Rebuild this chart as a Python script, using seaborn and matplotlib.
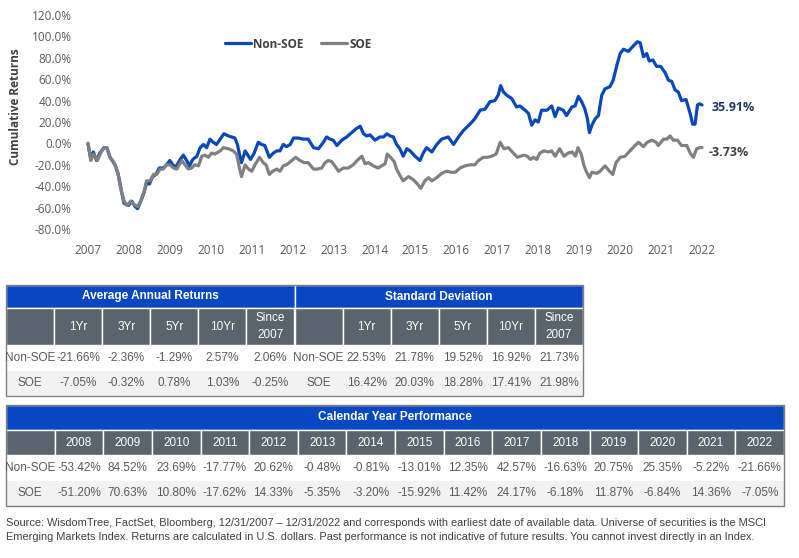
import numpy as np
import pandas as pd
import matplotlib
matplotlib.use('Agg')
import matplotlib.pyplot as plt
from matplotlib.patches import Rectangle
import seaborn as sns

# ---- cumulative return series (% since start) ----
non_soe_year = [2007.00, 2007.07, 2007.13, 2007.21, 2007.29, 2007.39, 2007.46, 2007.54, 2007.66, 2007.74,
                2007.82, 2007.88, 2007.99, 2008.07, 2008.15, 2008.21, 2008.29, 2008.37, 2008.43, 2008.50,
                2008.58, 2008.66, 2008.74, 2008.84, 2008.92, 2009.00, 2009.07, 2009.15, 2009.25, 2009.33,
                2009.41, 2009.48, 2009.56, 2009.66, 2009.74, 2009.82, 2009.90, 2009.98, 2010.06, 2010.14,
                2010.23, 2010.32, 2010.43, 2010.51, 2010.59, 2010.65, 2010.70, 2010.75, 2010.84, 2010.92,
                2010.97, 2011.06, 2011.16, 2011.24, 2011.32, 2011.43, 2011.53, 2011.61, 2011.69, 2011.77,
                2011.85, 2011.94, 2012.02, 2012.14, 2012.26, 2012.38, 2012.51, 2012.63, 2012.75, 2012.83,
                2012.91, 2012.99, 2013.08, 2013.20, 2013.32, 2013.44, 2013.56, 2013.65, 2013.73, 2013.81,
                2013.89, 2014.01, 2014.13, 2014.22, 2014.30, 2014.38, 2014.46, 2014.54, 2014.62, 2014.70,
                2014.79, 2014.87, 2014.99, 2015.11, 2015.19, 2015.27, 2015.40, 2015.52, 2015.64, 2015.80,
                2015.93, 2016.05, 2016.17, 2016.33, 2016.45, 2016.58, 2016.70, 2016.82, 2016.94, 2017.02,
                2017.08, 2017.15, 2017.23, 2017.35, 2017.47, 2017.55, 2017.68, 2017.76, 2017.84, 2017.92,
                2018.00, 2018.08, 2018.21, 2018.33, 2018.41, 2018.49, 2018.61, 2018.69, 2018.82, 2018.90,
                2018.98, 2019.06, 2019.14, 2019.20, 2019.25, 2019.31, 2019.39, 2019.47, 2019.55, 2019.63,
                2019.75, 2019.83, 2019.92, 2020.00, 2020.08, 2020.20, 2020.32, 2020.42, 2020.49, 2020.57,
                2020.65, 2020.71, 2020.80, 2020.89, 2020.99, 2021.10, 2021.18, 2021.26, 2021.34, 2021.42,
                2021.50, 2021.61, 2021.71, 2021.77, 2021.83, 2021.89, 2021.94, 2022.00]
non_soe_ret = [0, -15, -8, -16, -9, -4, -4, -13, -20, -29,
               -45, -56, -58, -54, -59, -61, -54, -46, -37, -38,
               -31, -29, -23, -23, -20, -16, -20, -22, -15, -11,
               -16, -21, -15, -12, -4, -1, -4, 4, 1, -1,
               4, 9, 7, 6, 5, -1, -10, -18, -7, -12,
               -15, -9, 1, -1, -2, -13, -9, -7, -7, -1,
               -3, -1, 5, 5, 4, 4, -4, -5, 1, 6,
               4, 3, -2, 3, 6, 10, 14, 16, 9, 7,
               8, 3, 6, 6, 9, 7, 6, -1, -5, -12,
               -5, -7, -12, -16, -9, -4, -8, -1, 4, 6,
               -1, 6, 12, 18, 23, 31, 32, 39, 40, 45,
               54, 48, 45, 42, 34, 35, 31, 28, 17, 22,
               20, 31, 31, 35, 25, 33, 31, 26, 34, 35,
               44, 39, 32, 23, 10, 17, 23, 26, 45, 51,
               53, 59, 73, 84, 88, 86, 91, 95, 94, 81,
               84, 77, 78, 72, 72, 66, 59, 58, 50, 48,
               40, 41, 28, 18, 18, 36, 37, 35.91]

soe_year = [2007.00, 2007.07, 2007.13, 2007.23, 2007.31, 2007.39, 2007.46, 2007.54, 2007.64, 2007.72,
            2007.80, 2007.88, 2007.96, 2008.04, 2008.12, 2008.21, 2008.29, 2008.37, 2008.43, 2008.52,
            2008.60, 2008.68, 2008.76, 2008.84, 2008.92, 2009.00, 2009.09, 2009.17, 2009.29, 2009.37,
            2009.45, 2009.53, 2009.61, 2009.70, 2009.78, 2009.86, 2009.94, 2010.02, 2010.10, 2010.23,
            2010.31, 2010.43, 2010.55, 2010.63, 2010.70, 2010.75, 2010.84, 2010.92, 2011.00, 2011.08,
            2011.19, 2011.28, 2011.35, 2011.43, 2011.51, 2011.61, 2011.69, 2011.77, 2011.85, 2011.98,
            2012.07, 2012.18, 2012.28, 2012.38, 2012.51, 2012.60, 2012.71, 2012.79, 2012.87, 2012.95,
            2013.03, 2013.12, 2013.24, 2013.36, 2013.48, 2013.60, 2013.69, 2013.77, 2013.85, 2013.97,
            2014.09, 2014.17, 2014.26, 2014.31, 2014.39, 2014.48, 2014.54, 2014.62, 2014.70, 2014.83,
            2014.95, 2015.05, 2015.13, 2015.23, 2015.32, 2015.40, 2015.52, 2015.64, 2015.76, 2015.88,
            2015.97, 2016.09, 2016.21, 2016.33, 2016.45, 2016.54, 2016.66, 2016.76, 2016.86, 2016.97,
            2017.07, 2017.16, 2017.27, 2017.39, 2017.49, 2017.57, 2017.65, 2017.73, 2017.81, 2017.88,
            2017.96, 2018.04, 2018.14, 2018.25, 2018.33, 2018.41, 2018.52, 2018.63, 2018.73, 2018.83,
            2018.91, 2018.97, 2019.05, 2019.11, 2019.17, 2019.25, 2019.31, 2019.43, 2019.51, 2019.63,
            2019.74, 2019.82, 2019.90, 2020.00, 2020.12, 2020.24, 2020.36, 2020.45, 2020.57, 2020.66,
            2020.77, 2020.88, 2020.93, 2021.06, 2021.14, 2021.22, 2021.30, 2021.40, 2021.50, 2021.63,
            2021.71, 2021.79, 2021.87, 2021.94, 2022.00]
soe_ret = [0, -16, -10, -16, -9, -4, -4, -13, -18, -26,
           -42, -54, -58, -54, -57, -59, -54, -45, -35, -35,
           -29, -29, -24, -24, -20, -20, -23, -24, -16, -20,
           -24, -23, -20, -21, -12, -11, -13, -9, -10, -7,
           -4, -5, -7, -10, -23, -31, -20, -24, -26, -20,
           -13, -18, -20, -29, -26, -24, -26, -21, -20, -16,
           -13, -16, -18, -18, -24, -24, -23, -18, -16, -17,
           -21, -26, -23, -23, -20, -15, -12, -19, -18, -21,
           -23, -21, -19, -10, -13, -17, -24, -30, -35, -31,
           -34, -38, -42, -35, -32, -35, -32, -28, -26, -27,
           -27, -23, -21, -20, -20, -16, -13, -13, -12, -10,
           1, -5, -4, -9, -13, -12, -11, -12, -15, -13,
           -15, -9, -7, -8, -7, -12, -5, -12, -9, -8,
           -12, -4, -10, -20, -26, -32, -27, -28, -26, -21,
           -26, -29, -18, -13, -12, -7, -2, 1, -3, 1,
           3, 1, -2, 4, 4, 7, 3, 3, -2, -2,
           -9, -13, -5, -4, -3.73]

axis_years = list(range(2007, 2023))
y_ticks = list(range(-80, 121, 20))

# ---- table data ----
periods = ['1Yr', '3Yr', '5Yr', '10Yr', 'Since\n2007']
aar_non_soe = [-21.66, -2.36, -1.29, 2.57, 2.06]
aar_soe = [-7.05, -0.32, 0.78, 1.03, -0.25]
std_non_soe = [22.53, 21.78, 19.52, 16.92, 21.73]
std_soe = [16.42, 20.03, 18.28, 17.41, 21.98]

cal_years = [str(y) for y in range(2008, 2023)]
cal_non_soe = [-53.42, 84.52, 23.69, -17.77, 20.62, -0.48, -0.81, -13.01, 12.35, 42.57,
               -16.63, 20.75, 25.35, -5.22, -21.66]
cal_soe = [-51.20, 70.63, 10.80, -17.62, 14.33, -5.35, -3.20, -15.92, 11.42, 24.17,
           -6.18, 11.87, -6.84, 14.36, -7.05]

footnote = ("Source: WisdomTree, FactSet, Bloomberg, 12/31/2007 \u2013 12/31/2022 and corresponds with earliest date "
            "of available data. Universe of securities is the MSCI\nEmerging Markets Index. Returns are calculated in "
            "U.S. dollars. Past performance is not indicative of future results. You cannot invest directly in an Index.")

BLUE = '#0a47b8'
GRAY_LINE = '#808080'
HEAD_BLUE = '#0747c1'
HEAD_GRAY = '#5a646c'
ALT_ROW = '#f2f2f2'
TXT = '#595959'
TABLE_FONT = ['Liberation Sans', 'DejaVu Sans']

sns.set_theme(style='white')
plt.rcParams['font.family'] = ['Open Sans', 'DejaVu Sans']

W, H = 799, 558
fig = plt.figure(figsize=(W / 100, H / 100), dpi=100)


def px_axes(x0, y0, x1, y1):
    return fig.add_axes([x0 / W, 1 - y1 / H, (x1 - x0) / W, (y1 - y0) / H])


# ---- line chart ----
ax = px_axes(80, 15, 710, 229)
df = pd.concat([
    pd.DataFrame({'year': non_soe_year, 'ret': non_soe_ret, 'series': 'Non-SOE'}),
    pd.DataFrame({'year': soe_year, 'ret': soe_ret, 'series': 'SOE'}),
])
sns.lineplot(data=df, x='year', y='ret', hue='series', hue_order=['Non-SOE', 'SOE'],
             palette={'Non-SOE': BLUE, 'SOE': GRAY_LINE}, linewidth=2.3,
             estimator=None, ax=ax)

ax.set_xlim(2006.805, 2022.195)
ax.set_ylim(-80, 120)
ax.set_xticks(axis_years)
ax.set_xticklabels([str(y) for y in axis_years])
ax.set_yticks(y_ticks)
ax.set_yticklabels([f'{v:.1f}%' for v in y_ticks])
ax.tick_params(axis='both', colors=TXT, labelsize=8.5, length=0)
ax.tick_params(axis='y', pad=6)
ax.tick_params(axis='x', pad=11)
sns.despine(ax=ax, left=True, bottom=True)
ax.set_xlabel('')
ax.set_ylabel('Cumulative Returns', fontweight='bold', color='#404040', fontsize=8.5)
ax.yaxis.set_label_coords((22 - 80) / 630, (229 - 107) / 214)

handles, labels = ax.get_legend_handles_labels()
leg = ax.legend(handles, labels, loc='center left', bbox_to_anchor=((225 - 80) / 630, (229 - 44) / 214),
                ncol=2, frameon=False, handlelength=2.2, handletextpad=0.2, columnspacing=1.5,
                borderpad=0, borderaxespad=0, prop={'weight': 'bold', 'size': 8.5})
for t in leg.get_texts():
    t.set_color('#404040')

ax.annotate(f'{non_soe_ret[-1]:.2f}%', xy=(non_soe_year[-1], non_soe_ret[-1]), xytext=(10, -3),
            textcoords='offset pixels', ha='left', va='center', fontweight='bold',
            color='#203864', fontsize=9)
ax.annotate(f'{soe_ret[-1]:.2f}%', xy=(soe_year[-1], soe_ret[-1]), xytext=(7, -5),
            textcoords='offset pixels', ha='left', va='center', fontweight='bold',
            color='#404040', fontsize=9)


# ---- tables ----
def pct(v):
    return f'{v:.2f}%'


def draw_table(tax, n_cols, row_edges, groups, headers, body):
    tax.set_xlim(0, n_cols)
    tax.set_ylim(row_edges[-1], 0)
    tax.axis('off')
    y0, y1 = row_edges[0], row_edges[1]
    for title, c0, span in groups:
        tax.add_patch(Rectangle((c0, y0), span, y1 - y0, fc=HEAD_BLUE, ec='white', lw=1))
        tax.text(c0 + span / 2, (y0 + y1) / 2, title, ha='center', va='center', color='white',
                 fontweight='bold', fontsize=8.5, family=TABLE_FONT)
    y0, y1 = row_edges[1], row_edges[2]
    for c, h in enumerate(headers):
        tax.add_patch(Rectangle((c, y0), 1, y1 - y0, fc=HEAD_GRAY, ec='white', lw=1))
        tax.text(c + 0.5, (y0 + y1) / 2, h, ha='center', va='center', color='white',
                 fontsize=8.5, linespacing=1.5, family=TABLE_FONT)
    for r, row in enumerate(body):
        y0, y1 = row_edges[r + 2], row_edges[r + 3]
        tax.add_patch(Rectangle((0, y0), n_cols, y1 - y0, fc='white' if r == 0 else ALT_ROW, ec='none'))
        for c, s in enumerate(row):
            tax.text(c + 0.5, (y0 + y1) / 2, s, ha='center', va='center', color=TXT,
                     fontsize=8.5, family=TABLE_FONT)
    tax.add_patch(Rectangle((0, 0), n_cols, row_edges[-1], fill=False, ec='#7f7f7f', lw=1, clip_on=False))


t1 = px_axes(6, 285, 583, 396)
draw_table(
    t1, 12, [0, 23, 60, 86, 111],
    [('Average Annual Returns', 0, 6), ('Standard Deviation', 6, 6)],
    [''] + periods + [''] + periods,
    [['Non-SOE'] + [pct(v) for v in aar_non_soe] + ['Non-SOE'] + [pct(v) for v in std_non_soe],
     ['SOE'] + [pct(v) for v in aar_soe] + ['SOE'] + [pct(v) for v in std_soe]],
)

t2 = px_axes(6, 405, 784, 506)
draw_table(
    t2, 16, [0, 25, 50, 76, 101],
    [('Calendar Year Performance', 0, 16)],
    [''] + cal_years,
    [['Non-SOE'] + [pct(v) for v in cal_non_soe],
     ['SOE'] + [pct(v) for v in cal_soe]],
)

fig.text(6 / W, 1 - 518 / H, footnote, ha='left', va='top', color='#404040', fontsize=7.9,
         linespacing=1.5, family=TABLE_FONT)

fig.savefig('out.png', dpi=100, facecolor='white')
